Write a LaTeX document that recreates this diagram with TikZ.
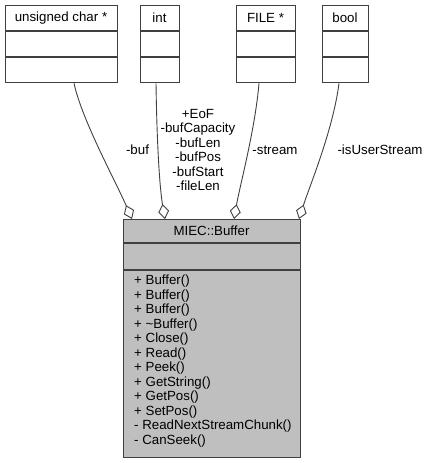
\documentclass[tikz,border=0pt]{standalone}
\usepackage{fontspec}
\setmainfont{Liberation Sans}
\usetikzlibrary{arrows.meta}
\definecolor{bord}{HTML}{404040}
\definecolor{mainfill}{HTML}{BFBFBF}
\begin{document}
\begin{tikzpicture}[x=1pt,y=-1pt,
  every node/.style={font=\fontsize{13.3}{14.5}\selectfont, inner sep=0pt},
  umlbox/.style={draw=bord, line width=1.3pt, fill=white, anchor=north west},
  sep/.style={draw=bord, line width=1.3pt},
  agg/.style={draw=bord, line width=0.9pt, {Diamond[open, fill=white, length=15pt, width=11pt]}-},
  lbl/.style={align=center}
]
\useasboundingbox (0,0) rectangle (429,463);
% top boxes
\node[umlbox, minimum width=112pt, minimum height=77pt] (uc) at (5,5) {};
\node (uct) at (61,18) {unsigned char *};
\draw[sep] (5,31) -- (117,31) (5,57) -- (117,57);

\node[umlbox, minimum width=39pt, minimum height=77pt] (int) at (140,5) {};
\node (intt) at (159.5,18) {int};
\draw[sep] (140,31) -- (179,31) (140,57) -- (179,57);

\node[umlbox, minimum width=59pt, minimum height=77pt] (file) at (236,5) {};
\node (filet) at (265.5,18) {FILE *};
\draw[sep] (236,31) -- (295,31) (236,57) -- (295,57);

\node[umlbox, minimum width=46pt, minimum height=77pt] (bool) at (322,5) {};
\node (boolt) at (345,18) {bool};
\draw[sep] (322,31) -- (368,31) (322,57) -- (368,57);

% main class
\node[umlbox, fill=mainfill, minimum width=177pt, minimum height=238pt] (buf) at (123,219) {};
\node (buft) at (211.5,231) {MIEC::Buffer};
\draw[sep] (123,243) -- (300,243) (123,270) -- (300,270);
\node[anchor=north west, align=left] (meth) at (134,275) {%
+ Buffer()\\
+ Buffer()\\
+ Buffer()\\
+ \textasciitilde Buffer()\\
+ Close()\\
+ Read()\\
+ Peek()\\
+ GetString()\\
+ GetPos()\\
+ SetPos()\\
- ReadNextStreamChunk()\\
- CanSeek()};

% connectors
\coordinate (e1) at (132,219);
\coordinate (e2) at (165,219);
\coordinate (e3) at (234,219);
\coordinate (e4) at (299,219);
\draw[agg] (e1) .. controls (115,180) and (82,120) .. (uc.south -| 74,0);
\draw[agg] (e2) .. controls (160,190) and (157,150) .. (int.south -| 156,0);
\draw[agg] (e3) .. controls (240,185) and (255,130) .. (file.south -| 259,0);
\draw[agg] (e4) .. controls (310,185) and (333,130) .. (bool.south -| 339,0);

% labels
\node (l1) at (137.5,150) {-buf};
\node[lbl] (l2) at (198,150) {+EoF\\-bufCapacity\\-bufLen\\-bufPos\\-bufStart\\-fileLen};
\node (l3) at (275,150) {-stream};
\node (l4) at (380,150) {-isUserStream};
\end{tikzpicture}
\end{document}
